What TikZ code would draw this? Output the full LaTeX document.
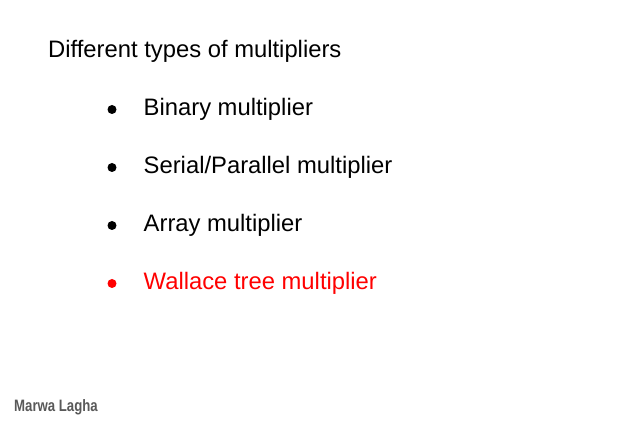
\documentclass[tikz,border=0pt]{standalone}
\usepackage{fontspec}
\setmainfont{Liberation Sans}
\usepackage{graphicx}
\begin{document}
\begin{tikzpicture}[x=1pt,y=1pt,
  itemtext/.style={anchor=base west,inner sep=0pt,font=\fontsize{23.8}{28}\selectfont},
  bul/.style={circle,fill,inner sep=0pt,minimum size=9pt}]
\useasboundingbox (0,0) rectangle (627,425);
\fill[white] (0,0) rectangle (627,425);
\node[itemtext] (title) at (48,425-57.5) {Different types of multipliers};
\node[bul] (b1) at (112,425-109.5) {};
\node[itemtext] (t1) at (143.5,425-115.5) {Binary multiplier};
\node[bul] (b2) at (112,425-167.5) {};
\node[itemtext] (t2) at (143.5,425-174) {Serial/Parallel multiplier};
\node[bul] (b3) at (112,425-225.5) {};
\node[itemtext] (t3) at (143.5,425-232) {Array multiplier};
\node[bul,red] (b4) at (112,425-283.5) {};
\node[itemtext,text=red] (t4) at (143.5,425-290) {Wallace tree multiplier};
\node[anchor=base west,inner sep=0pt,text=gray!70!black] (wm) at (14,425-411.5)
  {\scalebox{0.8}[1]{\fontsize{16.5}{18}\selectfont\bfseries Marwa Lagha}};
\end{tikzpicture}
\end{document}
